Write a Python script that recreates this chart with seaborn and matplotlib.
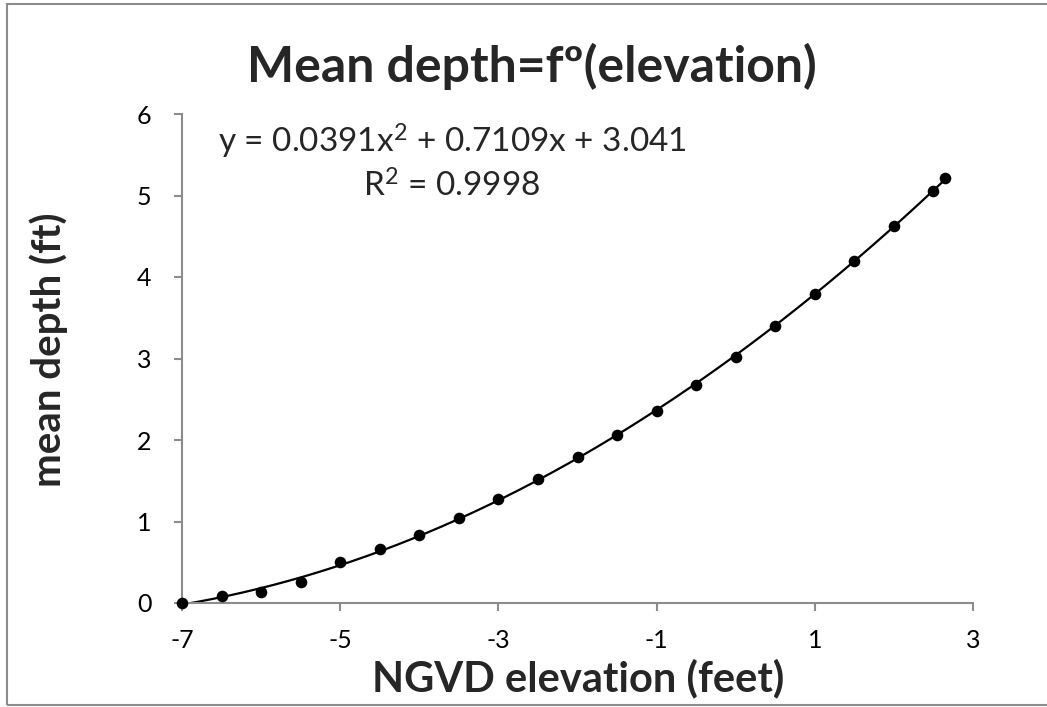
import numpy as np
import pandas as pd
import matplotlib
matplotlib.use("Agg")
import matplotlib.pyplot as plt
import seaborn as sns
from matplotlib.patches import Rectangle

# Data
elevation = [-7, -6.5, -6, -5.5, -5, -4.5, -4, -3.5, -3, -2.5, -2, -1.5, -1, -0.5,
             0, 0.5, 1, 1.5, 2, 2.5, 2.65]
mean_depth = [0.0, 0.09, 0.14, 0.26, 0.50, 0.66, 0.84, 1.04, 1.27, 1.52, 1.79, 2.06,
              2.35, 2.67, 3.02, 3.40, 3.79, 4.20, 4.62, 5.06, 5.22]
# Trendline coefficients shown on the chart
coef_a, coef_b, coef_c = 0.0391, 0.7109, 3.041
x_ticks = [-7, -5, -3, -1, 1, 3]
y_ticks = [0, 1, 2, 3, 4, 5, 6]

sns.set_theme(style="white")
plt.rcParams['font.family'] = ['Lato', 'DejaVu Sans']
plt.rcParams['mathtext.fontset'] = 'custom'
plt.rcParams['mathtext.rm'] = 'Lato'
plt.rcParams['mathtext.it'] = 'Lato'
plt.rcParams['mathtext.bf'] = 'Lato:bold'

df = pd.DataFrame({"elevation": elevation, "depth": mean_depth})
xs = np.linspace(min(elevation), max(elevation), 200)
trend = pd.DataFrame({"x": xs, "y": coef_a * xs**2 + coef_b * xs + coef_c})

W, H = 1047, 707
fig = plt.figure(figsize=(W/100, H/100), dpi=100)
L, R, B, T = 182, 973, 603, 114
ax = fig.add_axes([L/W, 1 - B/H, (R-L)/W, (B-T)/H])

sns.lineplot(data=trend, x="x", y="y", ax=ax, color="black", linewidth=1.6)
sns.scatterplot(data=df, x="elevation", y="depth", ax=ax, color="black", s=70,
                edgecolor="black", linewidth=0, zorder=3, clip_on=False)

ax.set_xlim(-7, 3)
ax.set_ylim(0, 6)
ax.set_xticks(x_ticks)
ax.set_yticks(y_ticks)
ax.set_xticklabels([str(t) for t in x_ticks], fontsize=18)
ax.set_yticklabels([str(t) for t in y_ticks], fontsize=18)

for s in ["top", "right"]:
    ax.spines[s].set_visible(False)
for s in ["left", "bottom"]:
    ax.spines[s].set_color("#8c8c8c")
    ax.spines[s].set_linewidth(1.5)
ax.tick_params(axis="both", which="major", direction="out", length=6, width=1.5,
               color="#8c8c8c", labelcolor="black", bottom=True, left=True)
ax.tick_params(axis="x", pad=13)
ax.tick_params(axis="y", pad=16)

ax.set_xlabel("NGVD elevation (feet)", fontsize=30, fontweight="bold")
ax.set_ylabel("mean depth (ft)", fontsize=29, fontweight="bold")
ax.xaxis.set_label_coords((578 - L) / (R - L), (B - 659) / (B - T))
ax.yaxis.set_label_coords((68 - L) / (R - L), (B - 350) / (B - T))

fig.text(532/W, 1 - 66/H, "Mean depth=fº(elevation)", ha="center", va="center",
         fontsize=36, fontweight="bold")

ax.text((452 - L) / (R - L), (B - 141) / (B - T), "y = 0.0391x$^2$ + 0.7109x + 3.041",
        transform=ax.transAxes, ha="center", va="center", fontsize=24)
ax.text((452 - L) / (R - L), (B - 186) / (B - T), "R$^2$ = 0.9998",
        transform=ax.transAxes, ha="center", va="center", fontsize=24)

# outer chart border
fig.patches.append(Rectangle((7/W, 1 - 705/H), 1.2, 701/H, transform=fig.transFigure,
                             fill=False, edgecolor="#8c8c8c", linewidth=1.5))

fig.savefig("out.png", dpi=100, facecolor="white")
